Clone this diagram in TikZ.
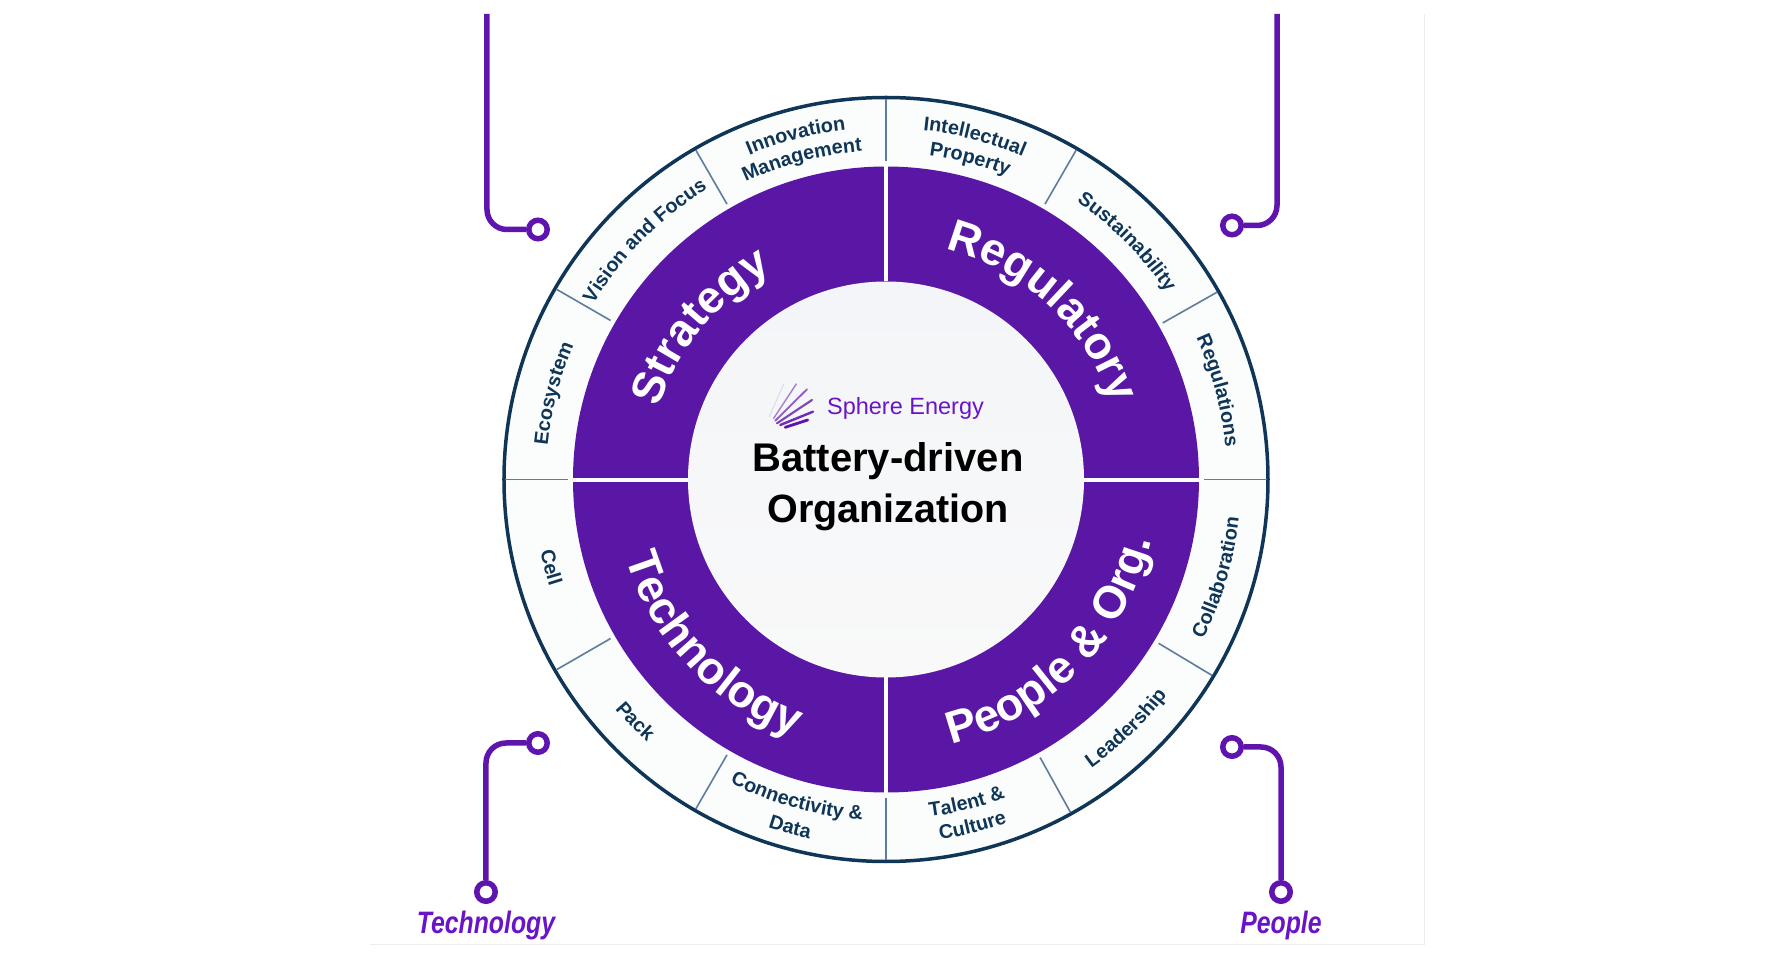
\documentclass[tikz,border=0pt]{standalone}
\usepackage{fontspec}
\setmainfont{Liberation Sans}
\newfontfamily\tagfont[FakeStretch=0.8]{Liberation Sans}
\usetikzlibrary{decorations.text}

\definecolor{wheelpurple}{HTML}{5A17A5}
\definecolor{wirepurple}{HTML}{5F14AE}
\definecolor{tagpurple}{HTML}{6A14C8}
\definecolor{wheelnavy}{HTML}{0F3557}
\definecolor{dividerblue}{HTML}{5F7C9E}
\definecolor{hubtop}{HTML}{F3F5F8}
\definecolor{hubbottom}{HTML}{F9F9F9}
\definecolor{ringgrey}{HTML}{FBFCFC}

\newcommand{\bigfont}{\fontsize{45.5}{50}\selectfont\bfseries}
\newcommand{\ringfont}{\fontsize{19.8}{22}\selectfont\bfseries}

% clockwise: letter tops point outwards
\newcommand{\cwlabel}[5]{
  \path[decorate, decoration={text along path, text align=center, text color=#1,
    text={|#2|#5}}] (#4+80:#3) arc[start angle=#4+80, end angle=#4-80, radius=#3];
}
% counter-clockwise: letter tops point inwards
\newcommand{\ccwlabel}[5]{
  \path[decorate, decoration={text along path, text align=center, text color=#1,
    text={|#2|#5}}] (#4-80:#3) arc[start angle=#4-80, end angle=#4+80, radius=#3];
}

\begin{document}
\begin{tikzpicture}[
    x=1pt, y=1pt,
    wire/.style={draw=wirepurple, line width=5.5pt, rounded corners=20pt},
    dot/.style={circle, draw=wirepurple, line width=5.5pt, fill=white,
                minimum size=18.5pt, inner sep=0pt},
    divider/.style={draw=dividerblue, line width=1.6pt},
    tag/.style={text=tagpurple, font=\tagfont\fontsize{31}{34}\selectfont\bfseries\itshape}
  ]
  \useasboundingbox (-886,-480.5) rectangle (900,479.5);

  % faint panel edge
  \draw[draw=black!7, line width=1pt] (-516,-464.5) -- (538,-464.5) -- (538,465.5);

  % wheel
  \fill[ringgrey] (0,0) circle[radius=382];
  \draw[wheelnavy, line width=3.5pt] (0,0) circle[radius=382];
  \fill[wheelpurple] (0,0) circle[radius=313];
  \shade[top color=hubtop, bottom color=hubbottom] (0,0) circle[radius=198];
  \draw[white, line width=4pt] (0,198) -- (0,313) (0,-198) -- (0,-313)
    (-198,-1) -- (-313,-1) (198,-1) -- (313,-1);
  \foreach \a in {90,60,29.5,0,-31,-61,-90,-120,-150,180,150,120} {
    \draw[divider] (\a:318) -- (\a:380.5);
  }

  % quadrant titles
  \cwlabel{white}{\bigfont}{238}{140.5}{Strategy}
  \cwlabel{white}{\bigfont}{238}{47}{Regulatory}
  \ccwlabel{white}{\bigfont}{272}{223.5}{Technology}
  \ccwlabel{white}{\bigfont}{272}{-44.5}{People {\&} Org.}

  % ring labels
  \cwlabel{wheelnavy}{\ringfont}{340}{165.5}{Ecosystem}
  \cwlabel{wheelnavy}{\ringfont}{341}{135.3}{Vision and Focus}
  \cwlabel{wheelnavy}{\ringfont}{352}{104.7}{Innovation}
  \cwlabel{wheelnavy}{\ringfont}{329}{104.7}{Management}
  \cwlabel{wheelnavy}{\ringfont}{351}{75.5}{Intellectual}
  \cwlabel{wheelnavy}{\ringfont}{327}{75.3}{Property}
  \cwlabel{wheelnavy}{\ringfont}{337}{44.6}{Sustainability}
  \cwlabel{wheelnavy}{\ringfont}{341}{15}{Regulations}
  \ccwlabel{wheelnavy}{\ringfont}{355}{-16.5}{Collaboration}
  \ccwlabel{wheelnavy}{\ringfont}{354}{-46}{Leadership}
  \ccwlabel{wheelnavy}{\ringfont}{340}{-76}{Talent {\&}}
  \ccwlabel{wheelnavy}{\ringfont}{364}{-76}{Culture}
  \ccwlabel{wheelnavy}{\ringfont}{341}{254.4}{Connectivity {\&}}
  \ccwlabel{wheelnavy}{\ringfont}{367}{254.6}{Data}
  \ccwlabel{wheelnavy}{\ringfont}{355}{224}{Pack}
  \ccwlabel{wheelnavy}{\ringfont}{353}{194.7}{Cell}

  % logo
  \begin{scope}[shift={(-95,74.5)}, line cap=round]
    \foreach \xa/\ya/\xb/\yb/\w/\c in {-21.7/-11.7/-7.3/21/0.8/20,
        -17.3/-13.3/5.3/21/1.4/55, -15.7/-15.7/16/15.7/1.8/70,
        -14/-18.3/21/5/2.1/80, -10.7/-20/22/-6.7/2.4/90, -5.7/-22.3/16.7/-15/2.8/100} {
      \draw[wirepurple!\c!white, line width=\w pt] (\xa,\ya) -- (\xb,\yb);
    }
  \end{scope}

  % hub text
  \node[text=tagpurple, font=\fontsize{23.5}{26}\selectfont, anchor=base] (brand)
    at (19.5,64.5) {Sphere Energy};
  \node[font=\fontsize{40}{44}\selectfont\bfseries, anchor=base] (title)
    at (2,7.5) {Battery-driven};
  \node[font=\fontsize{39.5}{44}\selectfont\bfseries, anchor=base] (subtitle)
    at (2,-43.5) {Organization};

  % connectors
  \coordinate (topleft) at (-399,465.5);
  \coordinate (topright) at (391,465.5);
  \node[dot] (dotTL) at (-348,250) {};
  \node[dot] (dotTR) at (346,254) {};
  \node[dot] (dotBL) at (-348,-263.5) {};
  \node[dot] (dotBR) at (346,-267.5) {};
  \node[dot] (endBL) at (-400,-412.5) {};
  \node[dot] (endBR) at (395,-412.5) {};
  \draw[wire] (topleft) |- (dotTL.west);
  \draw[wire] (topright) |- (dotTR.east);
  \draw[wire] (dotBL.west) -| (endBL.north);
  \draw[wire] (dotBR.east) -| (endBR.north);

  \node[tag] (tagBL) at (-400,-445.5) {Technology};
  \node[tag] (tagBR) at (395,-445.5) {People};
\end{tikzpicture}
\end{document}
